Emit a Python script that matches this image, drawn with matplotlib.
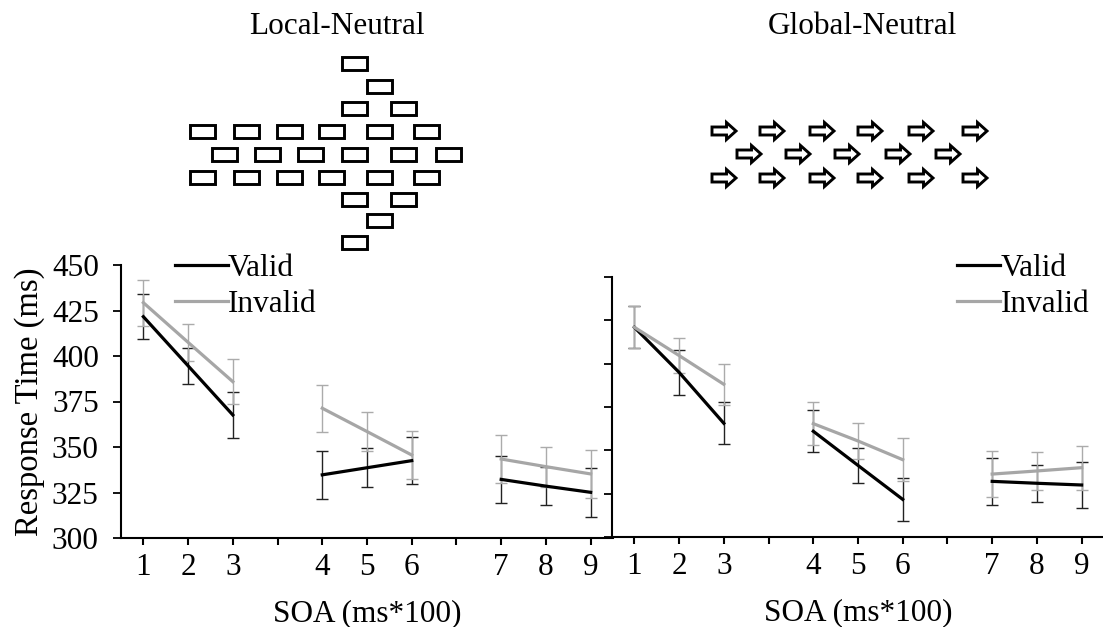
import numpy as np
import matplotlib
matplotlib.use('Agg')
import matplotlib.pyplot as plt
from matplotlib.patches import Rectangle, Polygon
from matplotlib.transforms import Affine2D

plt.rcParams['font.family'] = ['Liberation Serif', 'DejaVu Serif']

nan = np.nan
cats = ['1', '2', '3', '', '4', '5', '6', '', '7', '8', '9']

left_valid = [421.6, 394.6, 367.6, nan, 334.7, 338.6, 342.5, nan, 332.2, 328.5, 325.1]
left_valid_err = [12.3, 10.0, 12.4, nan, 13.0, 10.6, 13.0, nan, 13.0, 10.5, 13.5]
left_invalid = [429.3, 407.5, 385.9, nan, 371.3, 358.5, 345.6, nan, 343.4, 339.2, 335.2]
left_invalid_err = [12.6, 10.0, 12.5, nan, 13.0, 10.5, 13.0, nan, 13.2, 11.0, 13.0]

right_valid = [421.0, 395.0, 365.6, nan, 361.0, 341.3, 321.7, nan, 332.1, 331.0, 330.0]
right_valid_err = [12.0, 13.0, 12.0, nan, 12.0, 10.0, 12.5, nan, 13.4, 10.7, 13.3]
right_invalid = [421.0, 404.7, 388.1, nan, 365.4, 355.4, 344.6, nan, 336.3, 338.1, 340.0]
right_invalid_err = [12.0, 10.0, 11.7, nan, 12.5, 10.4, 12.5, nan, 13.4, 10.7, 12.6]

W, H = 1103, 627
FS = 22.5
fig = plt.figure(figsize=(W / 100, H / 100), dpi=100)

# pixel coords (y down) -> figure
pix = Affine2D().scale(1 / W, -1 / H).translate(0, 1) + fig.transFigure

ax1 = fig.add_axes([121 / W, 1 - 538 / H, (613 - 121) / W, (538 - 265) / H])
ax2 = fig.add_axes([612 / W, 1 - 537 / H, (1104 - 612) / W, (537 - 277) / H])

x = np.arange(len(cats))
for ax, v, ve, inv, inve in [(ax1, left_valid, left_valid_err, left_invalid, left_invalid_err),
                             (ax2, right_valid, right_valid_err, right_invalid, right_invalid_err)]:
    ax.errorbar(x, v, yerr=ve, fmt='none', ecolor='#222222', elinewidth=1.0,
                capsize=4.6, capthick=1.0, zorder=2)
    ax.errorbar(x, inv, yerr=inve, fmt='none', ecolor='#ababab', elinewidth=1.0,
                capsize=4.6, capthick=1.0, zorder=2)
    ax.plot(x, v, color='black', lw=2.3, zorder=3, label='Valid')
    ax.plot(x, inv, color='#a6a6a6', lw=2.3, zorder=3, label='Invalid')
    ax.set_xlim(-0.5, len(cats) - 0.5)
    ax.set_ylim(300, 450)
    ax.set_yticks(np.arange(300, 451, 25))
    ax.set_xticks(x)
    ax.set_xticklabels(cats)
    for s in ['top', 'right']:
        ax.spines[s].set_visible(False)
    for s in ['left', 'bottom']:
        ax.spines[s].set_linewidth(1.5)
    ax.tick_params(axis='y', direction='out', length=6, width=1.3, labelsize=FS, pad=10)
    ax.tick_params(axis='x', direction='out', length=5, width=1.5, labelsize=FS, pad=5.5)
    ax.set_xlabel('SOA (ms*100)', fontsize=FS, labelpad=13)
    ax.patch.set_alpha(0)

ax2.tick_params(axis='y', labelleft=False)
ax1.set_ylabel('Response Time (ms)', fontsize=23.5, labelpad=5)

ax1.legend(loc='upper left', bbox_to_anchor=(175 / W, 1 - 254 / H), bbox_transform=fig.transFigure,
           frameon=False, fontsize=FS, handlelength=1.7, handletextpad=0.0,
           borderpad=0, borderaxespad=0, labelspacing=0.22)
ax2.legend(loc='upper right', bbox_to_anchor=(1089 / W, 1 - 254 / H), bbox_transform=fig.transFigure,
           frameon=False, fontsize=FS, handlelength=1.4, handletextpad=0.0,
           borderpad=0, borderaxespad=0, labelspacing=0.22)

fig.text(337 / W, 1 - 26 / H, 'Local-Neutral', fontsize=FS, ha='center', va='center')
fig.text(862 / W, 1 - 26 / H, 'Global-Neutral', fontsize=FS, ha='center', va='center')

# local-neutral stimulus: rows of small rectangles (pixel layout)
rect_rows = [
    (63, [354]),
    (86, [379]),
    (108, [354, 403]),
    (131, [202, 246, 289, 331, 379, 426]),
    (154, [224, 267, 310, 354, 403, 448]),
    (177, [202, 246, 289, 331, 379, 426]),
    (199, [354, 403]),
    (220, [379]),
    (242, [354]),
]
rw, rh = 25, 13
for yc, xs in rect_rows:
    for xc in xs:
        fig.patches.append(Rectangle((xc - rw / 2, yc - rh / 2), rw, rh, fill=False,
                                     edgecolor='black', lw=2.1, transform=pix))

# global-neutral stimulus: rows of block arrows
arrow_rows = [
    (131, [724, 772, 822, 870, 921, 975]),
    (154, [749, 798, 847, 898, 948]),
    (178, [724, 772, 822, 870, 921, 975]),
]
shape = np.array([[-12, -4], [2.5, -4], [2.5, -8.5], [12, 0], [2.5, 8.5], [2.5, 4], [-12, 4]])
for yc, xs in arrow_rows:
    for xc in xs:
        fig.patches.append(Polygon(shape + [xc, yc], closed=True, facecolor='white',
                                   edgecolor='black', lw=2.1, joinstyle='miter', transform=pix))

fig.savefig('out.png', dpi=100)
